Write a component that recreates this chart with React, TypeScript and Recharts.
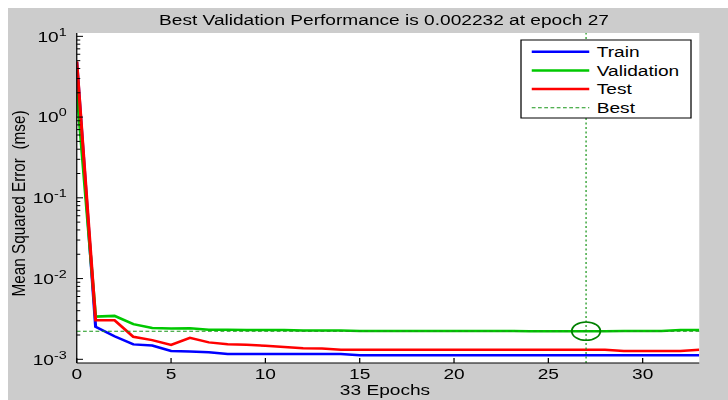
import React from 'react';
import { LineChart, Line, XAxis, YAxis, CartesianGrid, ReferenceLine, ReferenceDot } from 'recharts';

// training record: mse per epoch
const epochs = [0, 1, 2, 3, 4, 5, 6, 7, 8, 9, 10, 11, 12, 13, 14, 15, 16, 17, 18, 19, 20, 21, 22, 23, 24, 25, 26, 27, 28, 29, 30, 31, 32, 33];
const trainMse = [
  4.8, 0.00252, 0.00193, 0.00153, 0.00148, 0.00127, 0.00125, 0.00122, 0.00116, 0.00116, 0.00116, 0.00116,
  0.00116, 0.00116, 0.00116, 0.00112, 0.00112, 0.00112, 0.00112, 0.00112, 0.00112, 0.00112, 0.00112,
  0.00112, 0.00112, 0.00112, 0.00112, 0.00112, 0.00112, 0.00112, 0.00112, 0.00112, 0.00112, 0.00112,
];
const validationMse = [
  2.2, 0.00338, 0.00345, 0.00273, 0.00245, 0.00241, 0.00243, 0.00232, 0.00232, 0.00231, 0.00231, 0.00231,
  0.00228, 0.00228, 0.00227, 0.00224, 0.002238, 0.002237, 0.002236, 0.002236, 0.002235, 0.002235, 0.002234,
  0.002234, 0.002233, 0.002233, 0.002233, 0.002232, 0.002233, 0.002234, 0.002235, 0.002236, 0.0023, 0.0023,
];
const testMse = [
  4.9, 0.00305, 0.00305, 0.0019, 0.00173, 0.00151, 0.00184, 0.00162, 0.00154, 0.00151, 0.00147, 0.00142,
  0.00137, 0.00136, 0.00131, 0.00131, 0.00131, 0.00131, 0.00131, 0.00131, 0.00131, 0.00131, 0.00131,
  0.00131, 0.00131, 0.00131, 0.00131, 0.00131, 0.00131, 0.00127, 0.00127, 0.00127, 0.00127, 0.00131,
];
const bestEpoch = 27;
const bestPerf = 0.002232;

const xTicks = [0, 5, 10, 15, 20, 25, 30];
const yMajorTicks = [0.001, 0.01, 0.1, 1, 10];
const yTickExponents = ['-3', '-2', '-1', '0', '1'];
const yMinorSteps = [2, 3, 4, 5, 6, 7, 8, 9];

const series = [
  { key: 'train', name: 'Train', color: '#0000ff' },
  { key: 'validation', name: 'Validation', color: '#00c800' },
  { key: 'test', name: 'Test', color: '#ff0000' },
];
const BEST_COLOR = '#1a961a';
const FONT = '"Liberation Sans", Arial, Helvetica, sans-serif';
const FS = 15.3;

const data = epochs.map((epoch, i) => ({
  epoch,
  train: trainMse[i],
  validation: validationMse[i],
  test: testMse[i],
}));

const yTicks = [
  ...yMajorTicks,
  ...yMajorTicks.slice(0, -1).flatMap((base) => yMinorSteps.map((m) => base * m)),
];

// inward ticks plus 10^n labels, MATLAB style
const LogTick = (props: any) => {
  const { x, y, payload, side } = props;
  const idx = yMajorTicks.findIndex((t) => Math.abs(t - payload.value) < t * 1e-6);
  const major = idx >= 0;
  const len = major ? 5 : 2.8;
  const dir = side === 'left' ? 1 : -1;
  return (
    <g>
      <line x1={x} x2={x + dir * len} y1={y} y2={y} stroke="#000" strokeWidth={1} />
      {side === 'left' && major && (
        <text x={x - 8} y={y + 5.3} textAnchor="end" fontSize={FS} fill="#000" fontFamily={FONT}>
          10<tspan dy={-6} fontSize={11.5}>{yTickExponents[idx]}</tspan>
        </text>
      )}
    </g>
  );
};

const BestCircle = (props: any) => (
  <ellipse cx={props.cx} cy={props.cy} rx={11.4} ry={9.2} fill="none" stroke="#008000" strokeWidth={1.5} />
);

const legendRows = [
  ...series.map((s) => ({ name: s.name, color: s.color, dash: undefined as string | undefined, width: 2.5 })),
  { name: 'Best', color: BEST_COLOR, dash: '3 2', width: 1 },
];

export default function App() {
  return (
    <div style={{ position: 'absolute', left: 8, top: 8, width: 720, height: 392, background: '#cccccc' }}>
      <div style={{ position: 'relative', width: 576, height: 392, transform: 'scaleX(1.25)', transformOrigin: '0 0' }}>
        <LineChart width={576} height={392} data={data} margin={{ top: 25, right: 23, left: 0, bottom: 0 }}>
          <CartesianGrid fill="#ffffff" stroke="none" horizontal={false} vertical={false} />
          <XAxis
            dataKey="epoch"
            type="number"
            domain={[0, 33]}
            ticks={xTicks}
            interval={0}
            allowDataOverflow
            height={37}
            tickSize={-5}
            tickMargin={10}
            axisLine={{ stroke: '#000' }}
            tickLine={{ stroke: '#000' }}
            tick={{ fill: '#000', fontSize: FS, fontFamily: FONT }}
          />
          <XAxis
            xAxisId="top"
            orientation="top"
            dataKey="epoch"
            type="number"
            domain={[0, 33]}
            ticks={xTicks}
            interval={0}
            allowDataOverflow
            height={0}
            tickSize={-5}
            axisLine={{ stroke: '#000' }}
            tickLine={{ stroke: '#000' }}
            tick={false}
          />
          <YAxis
            type="number"
            scale="log"
            domain={[0.0009, 11]}
            ticks={yTicks}
            interval={0}
            allowDataOverflow
            width={55}
            tickSize={0}
            tickMargin={0}
            axisLine={{ stroke: '#000' }}
            tickLine={false}
            tick={(p: any) => <LogTick {...p} side="left" />}
          />
          <YAxis
            yAxisId="right"
            orientation="right"
            type="number"
            scale="log"
            domain={[0.0009, 11]}
            ticks={yTicks}
            interval={0}
            allowDataOverflow
            width={0}
            tickSize={0}
            tickMargin={0}
            axisLine={{ stroke: '#000' }}
            tickLine={false}
            tick={(p: any) => <LogTick {...p} side="right" />}
          />
          {series.map((s) => (
            <Line
              key={s.key}
              dataKey={s.key}
              name={s.name}
              type="linear"
              stroke={s.color}
              strokeWidth={2.5}
              dot={false}
              isAnimationActive={false}
            />
          ))}
          <ReferenceLine y={bestPerf} stroke={BEST_COLOR} strokeDasharray="3 2" strokeWidth={1} />
          <ReferenceLine x={bestEpoch} stroke={BEST_COLOR} strokeDasharray="2 2.5" strokeWidth={1} />
          <ReferenceDot x={bestEpoch} y={bestPerf} shape={BestCircle} />
        </LineChart>
        <svg width={576} height={392} style={{ position: 'absolute', left: 0, top: 0, pointerEvents: 'none', overflow: 'visible' }} fontFamily={FONT}>
          <text x={300.8} y={17} textAnchor="middle" fontSize={FS} fill="#000">
            Best Validation Performance is {bestPerf} at epoch {bestEpoch}
          </text>
          <text x={301.6} y={387.5} textAnchor="middle" fontSize={FS} fill="#000">
            {epochs.length - 1} Epochs
          </text>
          <text
            x={13.4}
            y={195.5}
            transform="rotate(-90, 13.4, 195.5)"
            textAnchor="middle"
            fontSize={FS}
            fill="#000"
            style={{ whiteSpace: 'pre' }}
          >
            {'Mean Squared Error  (mse)'}
          </text>
          <rect x={410.4} y={32} width={136} height={78} fill="#fff" stroke="#000" strokeWidth={1} />
          {legendRows.map((r, i) => {
            const cy = 43.7 + i * 18.7;
            return (
              <g key={r.name}>
                <line x1={419} x2={465} y1={cy} y2={cy} stroke={r.color} strokeWidth={r.width} strokeDasharray={r.dash} />
                <text x={471} y={cy + 5.3} fontSize={FS} fill="#000">
                  {r.name}
                </text>
              </g>
            );
          })}
        </svg>
      </div>
    </div>
  );
}
